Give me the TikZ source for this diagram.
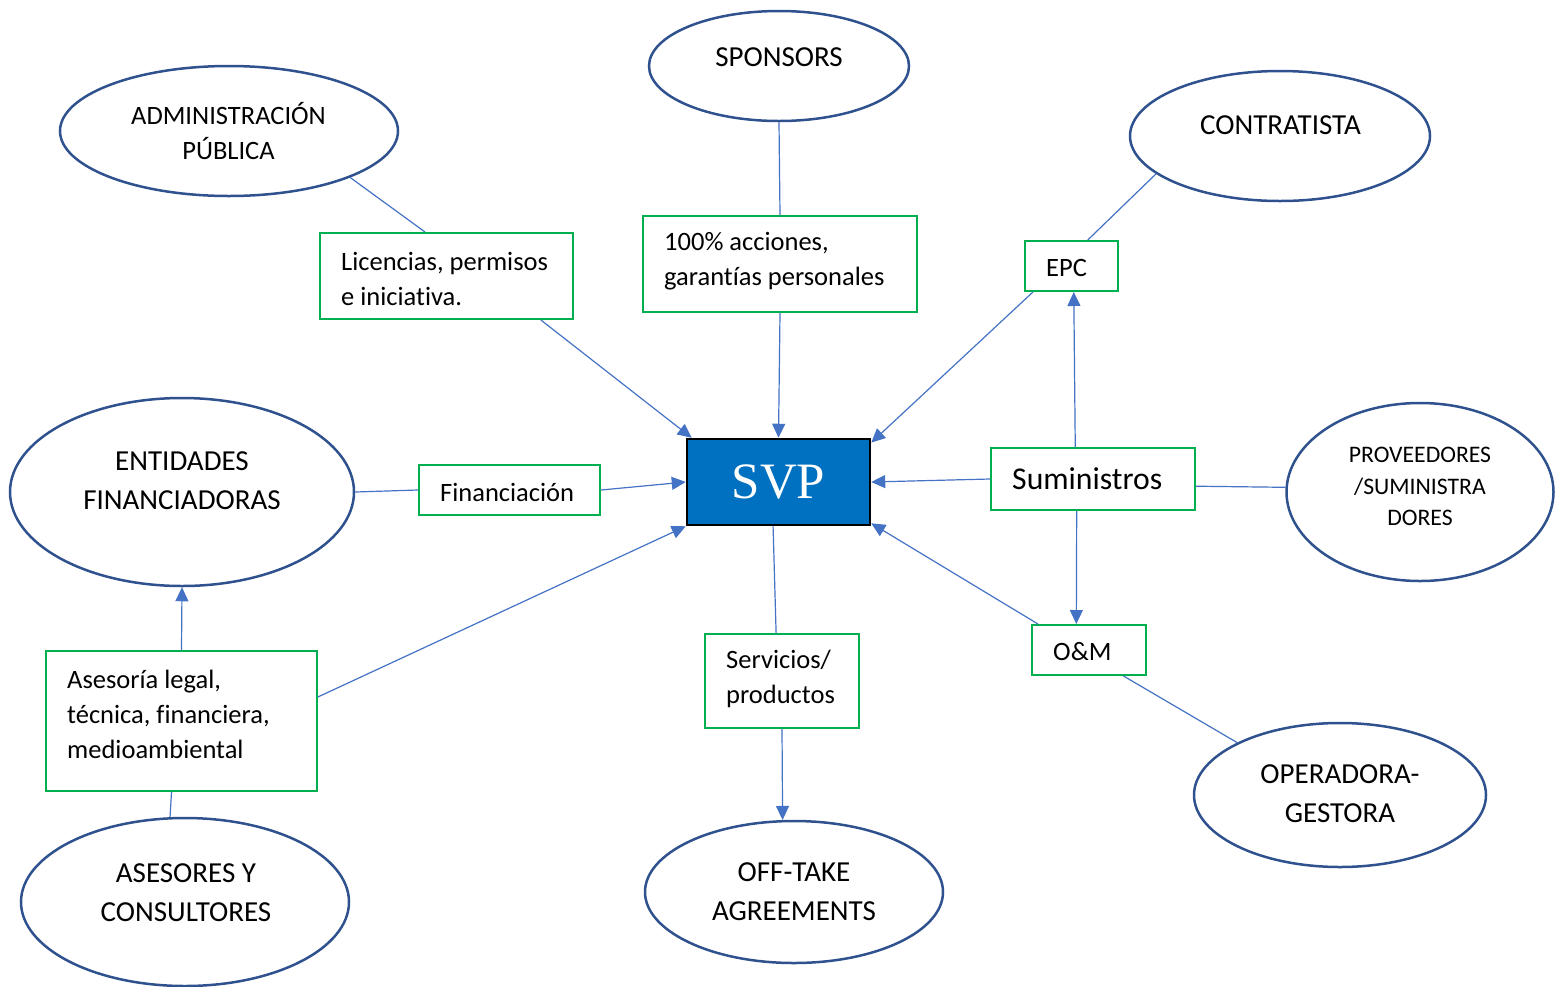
\documentclass[tikz,border=0pt]{standalone}
\usepackage{fontspec}
\setmainfont{Carlito}[Ligatures=NoCommon]
\newfontfamily\svpfont{Liberation Serif}
\usetikzlibrary{shapes.geometric,arrows.meta}
\definecolor{ellblue}{HTML}{2F528F}
\definecolor{boxgreen}{HTML}{00B050}
\definecolor{linkblue}{HTML}{4472C4}
\definecolor{svpblue}{HTML}{0070C0}
\begin{document}
\begin{tikzpicture}[x=1pt,y=-1pt,
  ell/.style={ellipse, draw=ellblue, line width=2.5pt, inner sep=0pt},
  gbox/.style={rectangle, draw=boxgreen, line width=2pt, inner sep=0pt},
  etxt/.style={align=center, font=\fontsize{29}{39}\selectfont, inner sep=0pt},
  btxt/.style={align=left, font=\fontsize{26.5}{35}\selectfont, inner sep=0pt, anchor=west},
  link/.style={draw=linkblue, line width=1.2pt},
  arr/.style={link, -{Triangle[length=14pt,width=13pt]}}]
\useasboundingbox (0,0) rectangle (1561,986);

% ellipses
\node[ell, minimum width=338pt, minimum height=130pt] (adm) at (229,131) {};
\node[ell, minimum width=260pt, minimum height=110pt] (spo) at (779,66) {};
\node[ell, minimum width=300pt, minimum height=130pt] (con) at (1280,136) {};
\node[ell, minimum width=344pt, minimum height=188pt] (ent) at (182,492) {};
\node[ell, minimum width=267pt, minimum height=178pt] (pro) at (1420,492) {};
\node[ell, minimum width=292pt, minimum height=144pt] (ope) at (1340,795) {};
\node[ell, minimum width=328pt, minimum height=168pt] (ase) at (185,902) {};
\node[ell, minimum width=298pt, minimum height=142pt] (off) at (794,892) {};

% ellipse texts
\node[etxt, font=\fontsize{26.5}{35}\selectfont] (admT) at (228.5,131) {ADMINISTRACIÓN\\PÚBLICA};
\node[etxt] (spoT) at (779,57) {SPONSORS};
\node[etxt] (conT) at (1280.5,125) {CONTRATISTA};
\node[etxt] (entT) at (182,480.5) {ENTIDADES\\FINANCIADORAS};
\node[etxt, font=\fontsize{23.7}{31.5}\selectfont] (proT) at (1420,486.5) {PROVEEDORES\\/SUMINISTRA\\DORES};
\node[etxt] (opeT) at (1340,793.5) {OPERADORA-\\GESTORA};
\node[etxt] (aseT) at (186,892.5) {ASESORES Y\\CONSULTORES};
\node[etxt] (offT) at (794,891.5) {OFF-TAKE\\AGREEMENTS};

% green boxes
\node[gbox, minimum width=253pt, minimum height=86pt] (lic) at (446.5,276) {};
\node[gbox, minimum width=274pt, minimum height=96pt] (acc) at (780,264) {};
\node[gbox, minimum width=93pt, minimum height=50pt] (epc) at (1071.5,266) {};
\node[gbox, minimum width=181pt, minimum height=50pt] (fin) at (509.5,490) {};
\node[gbox, minimum width=204pt, minimum height=62pt] (sum) at (1093,479) {};
\node[gbox, minimum width=114pt, minimum height=50pt] (om) at (1089,650) {};
\node[gbox, minimum width=154pt, minimum height=94pt] (ser) at (782,681) {};
\node[gbox, minimum width=271pt, minimum height=140pt] (asr) at (181.5,721) {};

% box texts
\node[btxt] (licT) at (341,278.5) {Licencias, permisos\\e iniciativa.};
\node[btxt] (accT) at (664,261.5) {100\% acciones,\\garantías personales};
\node[btxt] (epcT) at (1046,268) {EPC};
\node[btxt] (finT) at (440,492) {Financiación};
\node[btxt, font=\fontsize{31.7}{40}\selectfont] (sumT) at (1012,479) {Suministros};
\node[btxt] (omT) at (1053,652) {O\&M};
\node[btxt] (serT) at (726,678.5) {Servicios/\\productos};
\node[btxt] (asrT) at (67,714) {Asesoría legal,\\técnica, financiera,\\medioambiental};

% SVP
\node[draw=black, line width=2.5pt, fill=svpblue, minimum width=183pt, minimum height=86pt,
      inner sep=0pt, text=white, font=\svpfont\fontsize{51}{51}\selectfont] (svp) at (778.5,482) {SVP};

% connectors
\draw[link] (adm.-21) -- (lic.116);
\draw[arr] (lic.-25) -- (svp.153);
\draw[link] (spo.south) -- (acc.north);
\draw[arr] (acc.south) -- (svp.north);
\draw[link] (con.197) -- (epc.58);
\draw[arr] (epc.214) -- (svp.23);
\draw[arr] (sum.119) -- (epc.-85);
\draw[arr] (sum.west) -- (svp.east);
\draw[link] (pro.178) -- (sum.-4.5);
\draw[arr] (sum.-117) -- (om.116);
\draw[arr] (om.153) -- (svp.-24);
\draw[link] (ope.153) -- (om.-37);
\draw[link] (ent.east) -- (fin.west);
\draw[arr] (fin.east) -- (svp.west);
\draw[arr] (asr.10.6) -- (svp.south west);
\draw[arr] (asr.north) -- (ent.south);
\draw[link] (ase.100) -- (asr.-98);
\draw[link] (svp.-97) -- (ser.97);
\draw[arr] (ser.south) -- (off.99);
\end{tikzpicture}
\end{document}
